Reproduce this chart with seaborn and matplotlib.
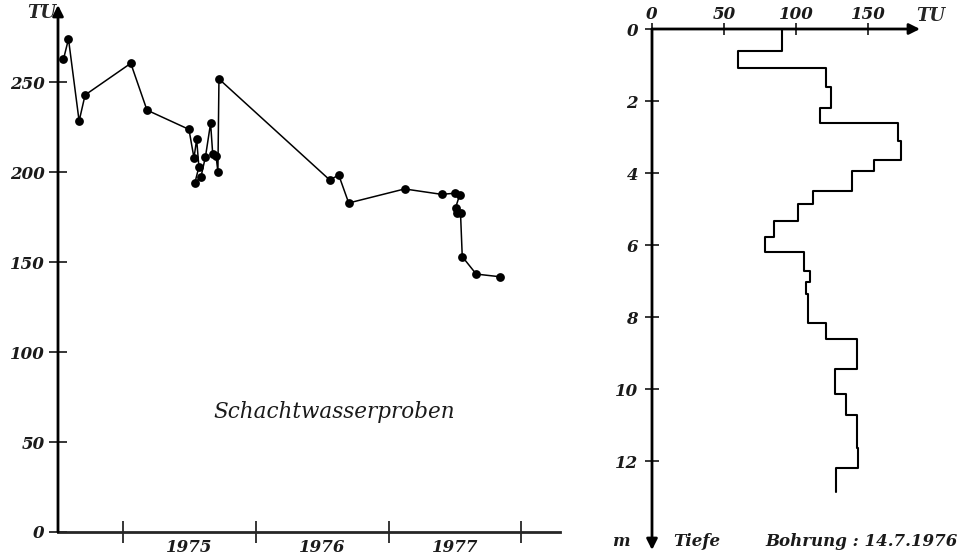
import numpy as np
import matplotlib
matplotlib.use('Agg')
import matplotlib.pyplot as plt
import seaborn as sns

# Schachtwasserproben (left panel): decimal year and tritium in TU
sample_year = [1974.551, 1974.589, 1974.669, 1974.714, 1975.058, 1975.180,
               1975.496, 1975.534, 1975.554, 1975.571, 1975.541, 1975.586,
               1975.620, 1975.659, 1975.675, 1975.700, 1975.714, 1975.722,
               1976.556, 1976.624, 1976.699, 1977.120, 1977.398, 1977.496,
               1977.534, 1977.504, 1977.514, 1977.541, 1977.554, 1977.659,
               1977.840]
sample_tu = [262.6, 273.9, 228.3, 242.8, 260.4, 234.4,
             223.7, 207.8, 218.2, 202.8, 194.1, 197.2,
             208.3, 227.1, 210.0, 209.0, 200.2, 251.7,
             195.6, 198.3, 182.8, 190.6, 187.6, 188.2,
             187.2, 180.2, 177.0, 177.0, 153.0, 143.3,
             141.8]
year_ticks = [1975, 1976, 1977, 1978]
year_labels = ['1975', '1976', '1977']
tu_ticks = [0, 50, 100, 150, 200, 250]

# Bohrung profile (right panel): depth layer boundaries in m, TU per layer
depth_edges = [0, 0.6, 1.07, 1.6, 2.2, 2.6, 3.12, 3.63, 3.95, 4.51, 4.87, 5.33,
               5.77, 6.2, 6.71, 7.03, 7.35, 8.16, 8.62, 9.43, 10.14, 10.73,
               11.65, 12.2, 12.86]
layer_tu = [90, 60, 121, 124.5, 116.5, 170.5, 173, 154, 138.5, 112, 101.5,
            84.5, 78.5, 105.5, 109.5, 107, 108, 121, 142.5, 127, 134.5, 142,
            143, 128]
depth_ticks = [0, 2, 4, 6, 8, 10, 12]
profile_tu_ticks = [0, 50, 100, 150]

sns.set_style('white')
plt.rcParams['font.family'] = ['DejaVu Serif']
font = dict(style='italic', weight='bold', fontsize=12, color='#1a1a1a')

fig = plt.figure(figsize=(9.64, 5.57), dpi=100)

# ---- left panel
ax = fig.add_axes([58 / 964, 25 / 557, 502 / 964, 527 / 557])
sns.lineplot(x=sample_year, y=sample_tu, sort=False, estimator=None,
             color='black', lw=1.1, ax=ax)
sns.scatterplot(x=sample_year, y=sample_tu, color='black', s=40,
                edgecolor='black', linewidth=0, zorder=3, ax=ax)
ax.set_xlim(1974.51, 1978.29)
ax.set_ylim(0, 292.8)
for s in ['top', 'right', 'left']:
    ax.spines[s].set_visible(False)
ax.spines['bottom'].set_linewidth(2)
ax.annotate('', xy=(0, 1), xytext=(0, 0), xycoords='axes fraction',
            arrowprops=dict(arrowstyle='-|>', lw=2, color='black',
                            mutation_scale=16, shrinkA=0, shrinkB=0))
ax.set_yticks(tu_ticks)
ax.set_yticklabels([str(t) for t in tu_ticks], **font)
ax.set_xticks(year_ticks)
ax.set_xticklabels([''] * len(year_ticks))
ax.set_xticks([y + 0.5 for y in year_ticks[:-1]], minor=True)
ax.set_xticklabels(year_labels, minor=True, **font)
ax.tick_params(axis='y', direction='inout', length=13, width=1.3, left=True, pad=3)
ax.tick_params(axis='x', which='major', direction='inout', length=16, width=1.3, bottom=True)
ax.tick_params(axis='x', which='minor', length=0, pad=5)
ax.set_xlabel('')
ax.set_ylabel('')
fig.text(42 / 964, 1 - 13 / 557, 'TU', ha='center', va='center', fontsize=13,
         style='italic', weight='bold')
ax.text(1976.59, 66.5, 'Schachtwasserproben', ha='center', va='center',
        style='italic', fontsize=15.5, color='#1a1a1a')

# ---- right panel
ax2 = fig.add_axes([652 / 964, 7 / 557, 268 / 964, 521 / 557])
step_depth = np.repeat(depth_edges, 2)[1:-1]
step_tu = np.repeat(layer_tu, 2)
sns.lineplot(x=step_tu, y=step_depth, sort=False, estimator=None,
             color='black', lw=1.5, ax=ax2)
ax2.set_xlim(0, 186)
ax2.set_ylim(14.47, 0)
for s in ax2.spines.values():
    s.set_visible(False)
ax2.annotate('', xy=(1, 1), xytext=(0, 1), xycoords='axes fraction',
             arrowprops=dict(arrowstyle='-|>', lw=2, color='black',
                             mutation_scale=16, shrinkA=0, shrinkB=0))
ax2.annotate('', xy=(0, 0), xytext=(0, 1), xycoords='axes fraction',
             arrowprops=dict(arrowstyle='-|>', lw=2, color='black',
                             mutation_scale=16, shrinkA=0, shrinkB=0))
ax2.xaxis.tick_top()
ax2.set_xticks(profile_tu_ticks)
ax2.set_xticklabels([str(t) for t in profile_tu_ticks], **font)
ax2.set_yticks(depth_ticks)
ax2.set_yticklabels([str(t) for t in depth_ticks], **font)
ax2.tick_params(axis='x', direction='inout', length=8, width=1.3, top=True, bottom=False, pad=0)
ax2.tick_params(axis='y', direction='inout', length=10, width=1.3, left=True, pad=5)
ax2.set_xlabel('')
ax2.set_ylabel('')
fig.text(931 / 964, 1 - 16 / 557, 'TU', ha='center', va='center', fontsize=13,
         style='italic', weight='bold')
fig.text(621 / 964, 1 - 541 / 557, 'm', ha='center', va='center', **font)
fig.text(697 / 964, 1 - 541 / 557, 'Tiefe', ha='center', va='center', **font)
fig.text(862 / 964, 1 - 541 / 557, 'Bohrung : 14.7.1976', ha='center', va='center', **font)

fig.savefig('out.png', dpi=100)
